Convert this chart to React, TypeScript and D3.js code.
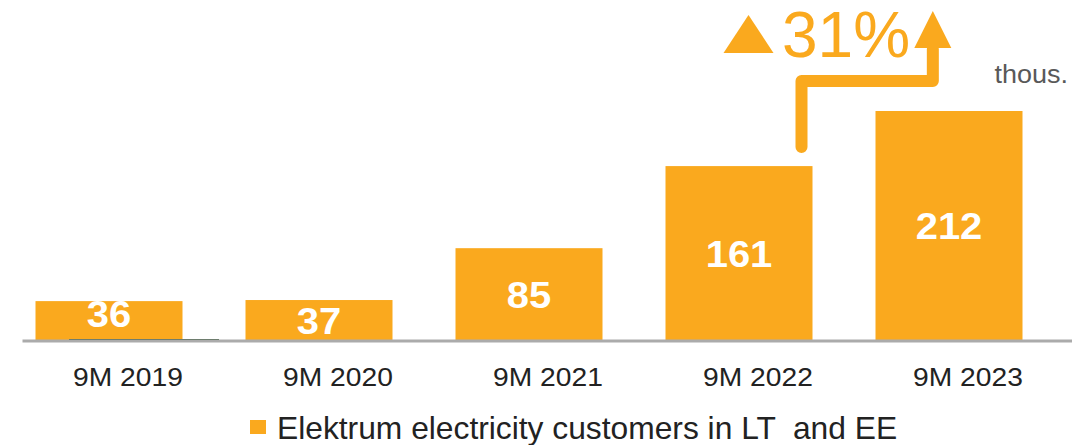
import React from "react";
import * as d3 from "d3";

const categories = ["9M 2019", "9M 2020", "9M 2021", "9M 2022", "9M 2023"];
const values = [36, 37, 85, 161, 212];
const legendLabel = "Elektrum electricity customers in LT  and EE";
const unitLabel = "thous.";
const growthLabel = "31%";

const W = 1086;
const H = 445;
const ORANGE = "#FAA91E";
const FONT = "'Liberation Sans', Arial, sans-serif";
const SX = 1.08;
// vertical nudge of the first value label (as in the reference)
const labelShift = [-7, 0, 0, 0, 0];

export default function App() {
  const x = d3.scaleBand<string>().domain(categories).range([4, 1054]).paddingInner(0.3).paddingOuter(0.15);
  const y = d3.scaleLinear().domain([0, 212]).range([340, 111]);
  const bw = x.bandwidth();
  const baseY = y(0);

  const x4 = x(categories[3])! + bw - 11;
  const x5 = x(categories[4])! + bw * 0.39;
  const yStart = y(values[3]) - 19;
  const yMid = 81;
  const headBase = 48;
  const headTip = 11;
  const arrowPath = d3.path();
  arrowPath.moveTo(x4, yStart);
  arrowPath.lineTo(x4, yMid);
  arrowPath.lineTo(x5, yMid);
  arrowPath.lineTo(x5, headBase + 1);
  const triX = x(categories[3])! + 83;

  return (
    <>
      <style>{`body{margin:0}`}</style>
      <svg width={W} height={H} style={{ display: "block", fontFamily: FONT }}>
        <rect x={0} y={0} width={W} height={H} fill="#ffffff" />
        <defs>
          {categories.map((c, i) => (
            <clipPath key={c} id={`clip${i}`}>
              <rect x={x(c)!} y={y(values[i])} width={bw} height={baseY - y(values[i])} />
            </clipPath>
          ))}
        </defs>
        {categories.map((c, i) => (
          <rect key={c} x={x(c)!} y={y(values[i])} width={bw} height={baseY - y(values[i])} fill={ORANGE} />
        ))}
        <line x1={22.5} x2={1072} y1={baseY + 1} y2={baseY + 1} stroke="#ababab" strokeWidth={3} />
        <line x1={69} x2={219} y1={baseY - 0.5} y2={baseY - 0.5} stroke="#6e7d6e" strokeWidth={1} />
        {categories.map((c, i) => {
          const cx = x(c)! + bw / 2;
          const cy = (y(values[i]) + baseY) / 2;
          return (
            <g key={c} clipPath={`url(#clip${i})`}>
              <text
                transform={`translate(${cx},${cy + 13.5 + labelShift[i]}) scale(${SX},1)`}
                textAnchor="middle"
                fontSize={37}
                fontWeight="bold"
                fill="#ffffff"
              >
                {values[i]}
              </text>
            </g>
          );
        })}
        {categories.map((c) => (
          <text
            key={c}
            transform={`translate(${x(c)! + bw / 2 + 19},386) scale(1.13,1)`}
            textAnchor="middle"
            fontSize={25}
            fill="#222222"
          >
            {c}
          </text>
        ))}
        <text transform={`translate(1068,83) scale(${SX},1)`} textAnchor="end" fontSize={25} fill="#595959">
          {unitLabel}
        </text>
        <path d={`M${triX - 25},53 L${triX + 25},53 L${triX},15 Z`} fill={ORANGE} />
        <text x={846} y={57} textAnchor="middle" fontSize={64} fill={ORANGE}>
          {growthLabel}
        </text>
        <path
          d={arrowPath.toString()}
          fill="none"
          stroke={ORANGE}
          strokeWidth={12}
          strokeLinecap="round"
          strokeLinejoin="round"
        />
        <path d={`M${x5 - 18.5},${headBase} L${x5 + 18.5},${headBase} L${x5},${headTip} Z`} fill={ORANGE} />
        <rect x={250} y={420} width={16} height={14} fill={ORANGE} />
        <text transform="translate(277,439) scale(1.025,1)" fontSize={31} fill="#222222" style={{ whiteSpace: "pre" }}>
          {legendLabel}
        </text>
      </svg>
    </>
  );
}
